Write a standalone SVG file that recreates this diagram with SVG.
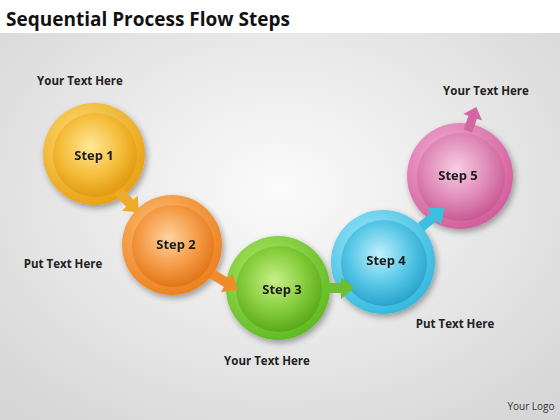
<svg xmlns="http://www.w3.org/2000/svg" width="560" height="420" viewBox="0 0 560 420">
<defs>
<radialGradient id="bg" cx="50%" cy="45%" r="70%"><stop offset="0" stop-color="#fbfbfb"/><stop offset="1" stop-color="#d6d6d6"/></radialGradient>
<radialGradient id="ringO" cx="40%" cy="35%" r="70%"><stop offset="0" stop-color="#fde27a"/><stop offset="1" stop-color="#e89e10"/></radialGradient>
<radialGradient id="inO" cx="45%" cy="40%" r="60%"><stop offset="0" stop-color="#fde89a"/><stop offset="0.6" stop-color="#f5bd3a"/><stop offset="1" stop-color="#e19a12"/></radialGradient>
<radialGradient id="ringR" cx="40%" cy="35%" r="70%"><stop offset="0" stop-color="#fcc27a"/><stop offset="1" stop-color="#ec7d1a"/></radialGradient>
<radialGradient id="inR" cx="45%" cy="40%" r="60%"><stop offset="0" stop-color="#fdd2a0"/><stop offset="0.6" stop-color="#f59a45"/><stop offset="1" stop-color="#e0761a"/></radialGradient>
<radialGradient id="ringG" cx="40%" cy="35%" r="70%"><stop offset="0" stop-color="#b5ea6a"/><stop offset="1" stop-color="#5cb820"/></radialGradient>
<radialGradient id="inG" cx="45%" cy="40%" r="60%"><stop offset="0" stop-color="#c8ef8a"/><stop offset="0.6" stop-color="#84cc3a"/><stop offset="1" stop-color="#5aa91c"/></radialGradient>
<radialGradient id="ringB" cx="40%" cy="35%" r="70%"><stop offset="0" stop-color="#a8ecfb"/><stop offset="1" stop-color="#2fb6dc"/></radialGradient>
<radialGradient id="inB" cx="45%" cy="40%" r="60%"><stop offset="0" stop-color="#bff0fb"/><stop offset="0.6" stop-color="#55c6e6"/><stop offset="1" stop-color="#2aa4cc"/></radialGradient>
<radialGradient id="ringP" cx="40%" cy="35%" r="70%"><stop offset="0" stop-color="#f6b6d8"/><stop offset="1" stop-color="#cf5a98"/></radialGradient>
<radialGradient id="inP" cx="45%" cy="40%" r="60%"><stop offset="0" stop-color="#f7cde3"/><stop offset="0.6" stop-color="#e08ab8"/><stop offset="1" stop-color="#c95a94"/></radialGradient>
<filter id="sh" x="-30%" y="-30%" width="160%" height="160%"><feGaussianBlur in="SourceAlpha" stdDeviation="3"/><feOffset dx="2" dy="3"/><feComponentTransfer><feFuncA type="linear" slope="0.35"/></feComponentTransfer><feMerge><feMergeNode/><feMergeNode in="SourceGraphic"/></feMerge></filter>
<path id="arr" d="M0,-5 L17,-5 L17,-11 L30,0 L17,11 L17,5 L0,5 Z"/>
</defs>
<style>
.t{font-family:"Open Sans","Liberation Sans",sans-serif;font-weight:bold;font-size:11.5px;fill:#222;text-anchor:middle}
.s{font-family:"Open Sans","Liberation Sans",sans-serif;font-weight:bold;font-size:13px;fill:#1a1a1a;text-anchor:middle}
.title{font-family:"Open Sans","Liberation Sans",sans-serif;font-weight:bold;font-size:19px;fill:#111}
.logo{font-family:"Open Sans","Liberation Sans",sans-serif;font-size:10px;fill:#333;text-anchor:middle}
</style>
<rect width="560" height="420" fill="url(#bg)"/>
<rect width="560" height="33" fill="#ffffff"/>
<text class="title" x="6" y="26">Sequential Process Flow Steps</text>

<g id="step1" filter="url(#sh)">
<circle cx="94" cy="154" r="51" fill="url(#ringO)"/>
<circle cx="95" cy="155" r="42" fill="url(#inO)"/>
<text class="s" x="94" y="160">Step 1</text>
</g>
<g id="step2" filter="url(#sh)">
<circle cx="172" cy="245" r="50" fill="url(#ringR)"/>
<circle cx="173" cy="246" r="41" fill="url(#inR)"/>
<text class="s" x="176" y="249">Step 2</text>
</g>
<g id="step3" filter="url(#sh)">
<circle cx="278" cy="288" r="52" fill="url(#ringG)"/>
<circle cx="279" cy="289" r="43" fill="url(#inG)"/>
<text class="s" x="282" y="294">Step 3</text>
</g>
<g id="step4" filter="url(#sh)">
<circle cx="383" cy="262" r="52" fill="url(#ringB)"/>
<circle cx="384" cy="263" r="43" fill="url(#inB)"/>
<text class="s" x="386" y="265">Step 4</text>
</g>
<g id="step5" filter="url(#sh)">
<circle cx="460" cy="176" r="53" fill="url(#ringP)"/>
<circle cx="461" cy="177" r="44" fill="url(#inP)"/>
<text class="s" x="458" y="180">Step 5</text>
</g>

<g id="connectors">
<use href="#arr" fill="#efaa28" transform="translate(118,191) rotate(46)"/>
<use href="#arr" fill="#f08a2a" transform="translate(212,274) rotate(31)"/>
<use href="#arr" fill="#6cc030" transform="translate(324,288)"/>
<use href="#arr" fill="#3cc0e0" transform="translate(421,227) rotate(-39)"/>
<use href="#arr" fill="#d665a4" transform="translate(468,131) rotate(-71) scale(0.85,0.9)"/>
</g>

<text class="t" x="80" y="85">Your Text Here</text>
<text class="t" x="63" y="268">Put Text Here</text>
<text class="t" x="267" y="365">Your Text Here</text>
<text class="t" x="455" y="328">Put Text Here</text>
<text class="t" x="486" y="95">Your Text Here</text>
<text class="logo" x="531" y="410">Your Logo</text>
</svg>
